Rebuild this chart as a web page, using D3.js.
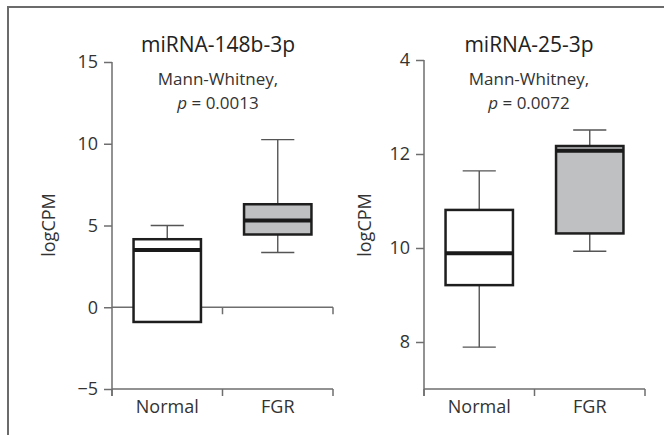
<!DOCTYPE html>
<html>
<head>
<meta charset="utf-8">
<script src="https://cdn.jsdelivr.net/npm/d3@7"></script>
<style>
  html, body { margin: 0; padding: 0; background: #fff; }
  svg { display: block; font-family: "Open Sans", "Noto Sans", sans-serif; }
</style>
</head>
<body>
<svg id="chart" width="664" height="435"></svg>
<script>
// ---- data ----
const categories = ["Normal", "FGR"];

const panelTitles = ["miRNA-148b-3p", "miRNA-25-3p"];
const pValues = ["0.0013", "0.0072"];

// box stats per category: [min, q1, median, q3, max]
const mir148Normal = [-0.9, -0.9, 3.5, 4.16, 5.0];
const mir148FGR    = [3.35, 4.45, 5.3, 6.3, 10.25];
const mir25Normal  = [7.89, 9.21, 9.89, 10.81, 11.64];
const mir25FGR     = [9.93, 10.31, 12.07, 12.17, 12.51];

const mir148Ticks = [-5, 0, 5, 10, 15];
const mir148TickLabels = ["\u22125", "0", "5", "10", "15"];
const mir25Ticks = [8, 10, 12, 14];
const mir25TickLabels = ["8", "10", "12", "4"];

const boxFill = ["#ffffff", "#bfc0c2"];

const svg = d3.select("#chart");

// outer frame
svg.append("rect")
  .attr("x", 8).attr("y", 7)
  .attr("width", 700).attr("height", 500)
  .attr("fill", "none").attr("stroke", "#6b6b6b").attr("stroke-width", 2);

const axisColor = "#6e6e6e";
const textColor = "#333333";

function drawPanel(cfg) {
  const g = svg.append("g");
  const x = d3.scaleBand().domain(categories).range(cfg.xRange).paddingInner(0).paddingOuter(0);
  const y = d3.scaleLinear().domain(cfg.yDomain).range([389, cfg.yTop]);

  // y axis
  const yAxis = d3.axisLeft(y).tickValues(cfg.ticks)
    .tickFormat((d, i) => cfg.tickLabels[i]).tickSize(8).tickPadding(6).tickSizeOuter(0);
  const ya = g.append("g").attr("transform", `translate(${cfg.xRange[0]},0)`).call(yAxis);
  ya.select(".domain").attr("d", `M0,${y(cfg.ticks[cfg.ticks.length-1])}V${396}`);

  // x axis at bottom with band-boundary ticks
  const bounds = [cfg.xRange[0], x("FGR"), cfg.xRange[1]];
  const xb = g.append("g");
  xb.append("line").attr("x1", cfg.xRange[0]).attr("x2", cfg.xRange[1])
    .attr("y1", 389).attr("y2", 389);
  bounds.forEach(b => xb.append("line").attr("x1", b).attr("x2", b).attr("y1", 389).attr("y2", 396));
  xb.selectAll("line").attr("stroke", axisColor).attr("stroke-width", 1.5);

  // category labels
  g.selectAll(".cat").data(categories).enter().append("text")
    .attr("x", d => x(d) + x.bandwidth() / 2).attr("y", 413)
    .attr("text-anchor", "middle").attr("font-size", 18).attr("fill", textColor)
    .text(d => d);

  // zero line (if present)
  if (cfg.zeroLine) {
    const zl = g.append("g");
    zl.append("line").attr("x1", cfg.xRange[0]).attr("x2", cfg.xRange[1])
      .attr("y1", y(0)).attr("y2", y(0));
    bounds.slice(1).forEach(b => zl.append("line").attr("x1", b).attr("x2", b).attr("y1", y(0)).attr("y2", y(0) + 7));
    zl.selectAll("line").attr("stroke", axisColor).attr("stroke-width", 1.5);
  }

  ya.selectAll("line, path").attr("stroke", axisColor).attr("stroke-width", 1.5);
  ya.selectAll("text").attr("font-size", 18).attr("fill", textColor).attr("font-family", "Open Sans");

  // boxes
  const bw = x.bandwidth() * 0.61;
  const cw = x.bandwidth() * 0.30;
  cfg.stats.forEach((s, i) => {
    const cx = x(categories[i]) + x.bandwidth() / 2;
    const bg = g.append("g");
    bg.append("line").attr("x1", cx).attr("x2", cx).attr("y1", y(s[0])).attr("y2", y(s[4]))
      .attr("stroke", "#555").attr("stroke-width", 1.4);
    [s[0], s[4]].forEach(v => bg.append("line").attr("x1", cx - cw / 2).attr("x2", cx + cw / 2)
      .attr("y1", y(v)).attr("y2", y(v)).attr("stroke", "#555").attr("stroke-width", 1.4));
    bg.append("rect").attr("x", cx - bw / 2).attr("width", bw)
      .attr("y", y(s[3])).attr("height", y(s[1]) - y(s[3]))
      .attr("fill", boxFill[i]).attr("stroke", "#1e1e1e").attr("stroke-width", 2.5);
    bg.append("line").attr("x1", cx - bw / 2).attr("x2", cx + bw / 2)
      .attr("y1", y(s[2])).attr("y2", y(s[2]))
      .attr("stroke", "#1a1a1a").attr("stroke-width", 4);
  });

  // titles
  const tcx = cfg.titleX;
  g.append("text").attr("x", tcx).attr("y", 52).attr("text-anchor", "middle")
    .attr("font-size", 21).attr("fill", "#222").text(cfg.title);
  g.append("text").attr("x", tcx).attr("y", 85).attr("text-anchor", "middle")
    .attr("font-size", 17).attr("fill", textColor).text("Mann-Whitney,");
  const pt = g.append("text").attr("x", tcx).attr("y", 109).attr("text-anchor", "middle")
    .attr("font-size", 17).attr("fill", textColor);
  pt.append("tspan").attr("font-style", "italic").text("p");
  pt.append("tspan").text(" = " + cfg.p);

  // y label
  g.append("text").attr("transform", `translate(${cfg.yLabelX},${cfg.yLabelY}) rotate(-90)`)
    .attr("text-anchor", "middle").attr("font-size", 18).attr("fill", textColor).text("logCPM");
}

drawPanel({
  xRange: [112, 333], yDomain: [-5, 15], yTop: 62,
  ticks: mir148Ticks, tickLabels: mir148TickLabels, zeroLine: true,
  stats: [mir148Normal, mir148FGR], title: panelTitles[0], p: pValues[0],
  titleX: 218, yLabelX: 55, yLabelY: 225
});
drawPanel({
  xRange: [424, 645], yDomain: [7, 14], yTop: 60,
  ticks: mir25Ticks, tickLabels: mir25TickLabels, zeroLine: false,
  stats: [mir25Normal, mir25FGR], title: panelTitles[1], p: pValues[1],
  titleX: 529, yLabelX: 371, yLabelY: 225
});
</script>
</body>
</html>
